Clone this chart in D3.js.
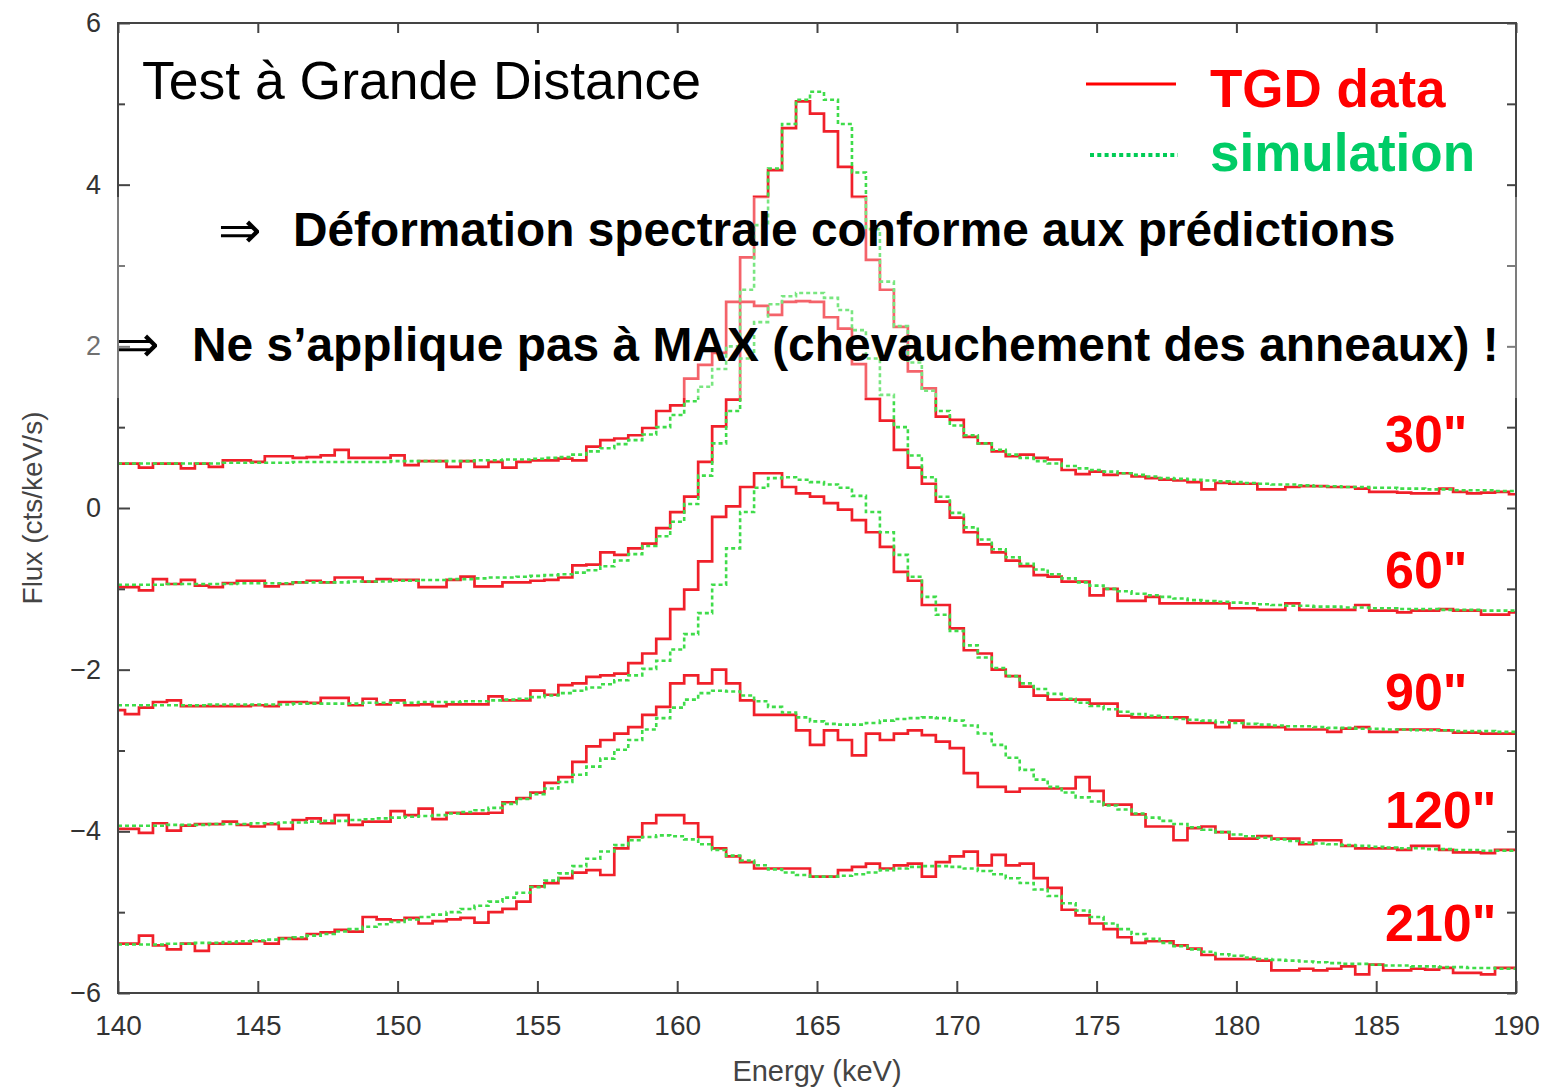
<!DOCTYPE html>
<html>
<head>
<meta charset="utf-8">
<script src="https://cdn.jsdelivr.net/npm/d3@7"></script>
<style>
  html, body { margin: 0; padding: 0; background: #fff; }
  svg { display: block; }
</style>
</head>
<body>
<svg id="chart" width="1551" height="1087"></svg>
<script>
// Energy grid: 0.5 keV bins centred from 140 to 190 keV
const energyMin = 140, energyMax = 190, binWidth = 0.5;
const energies = d3.range(0, 101).map(i => energyMin + i * binWidth);

const xTicks = [140, 145, 150, 155, 160, 165, 170, 175, 180, 185, 190];
const yTicks = [-6, -4, -2, 0, 2, 4, 6];
const yAllTicks = [-6, -5, -4, -3, -2, -1, 0, 1, 2, 3, 4, 5, 6];
const offsetLabels = ['30"', '60"', '90"', '120"', '210"'];

// Measured spectra (TGD data) and simulated spectra, offset per angle
const data30 = [
  0.55,0.55,0.50,0.55,0.55,0.49,0.55,0.51,0.59,0.59,
  0.57,0.64,0.64,0.62,0.63,0.65,0.72,0.62,0.62,0.62,
  0.65,0.53,0.58,0.58,0.51,0.58,0.51,0.57,0.50,0.57,
  0.59,0.59,0.61,0.59,0.76,0.84,0.86,0.90,0.99,1.20,
  1.27,1.60,1.77,1.92,2.55,3.10,3.85,4.18,4.70,5.03,
  4.88,4.66,4.22,3.85,3.07,2.70,2.24,1.69,1.48,1.13,
  1.09,0.88,0.80,0.70,0.64,0.66,0.62,0.60,0.47,0.42,
  0.45,0.41,0.43,0.39,0.37,0.35,0.34,0.32,0.23,0.31,
  0.30,0.30,0.23,0.23,0.26,0.27,0.27,0.26,0.26,0.24,
  0.20,0.20,0.19,0.18,0.18,0.24,0.20,0.18,0.19,0.20,
  0.17];
const sim30 = [
  0.55,0.55,0.55,0.55,0.55,0.55,0.55,0.55,0.56,0.56,
  0.56,0.56,0.56,0.57,0.57,0.57,0.57,0.57,0.57,0.57,
  0.58,0.58,0.58,0.58,0.58,0.58,0.59,0.59,0.60,0.60,
  0.61,0.62,0.63,0.66,0.70,0.74,0.79,0.84,0.91,1.00,
  1.15,1.32,1.50,1.72,2.00,2.70,3.50,4.20,4.75,5.05,
  5.15,5.05,4.75,4.15,3.45,2.80,2.25,1.80,1.45,1.20,
  1.02,0.90,0.80,0.72,0.66,0.62,0.58,0.55,0.52,0.49,
  0.47,0.45,0.43,0.41,0.39,0.37,0.36,0.35,0.34,0.33,
  0.32,0.31,0.30,0.29,0.29,0.28,0.27,0.27,0.26,0.26,
  0.25,0.25,0.24,0.24,0.23,0.23,0.22,0.22,0.22,0.21,
  0.21];

const data60 = [
  -0.98,-0.98,-1.02,-0.88,-0.94,-0.89,-0.96,-0.98,-0.93,-0.90,
  -0.90,-0.97,-0.94,-0.92,-0.90,-0.92,-0.86,-0.86,-0.91,-0.88,
  -0.89,-0.89,-0.98,-0.98,-0.89,-0.85,-0.97,-0.97,-0.92,-0.92,
  -0.90,-0.89,-0.86,-0.71,-0.70,-0.55,-0.58,-0.50,-0.44,-0.25,
  -0.05,0.14,0.57,1.01,1.34,2.55,2.50,2.39,2.55,2.56,
  2.55,2.36,2.22,1.78,1.35,1.08,0.72,0.50,0.30,0.08,
  -0.12,-0.30,-0.45,-0.55,-0.65,-0.72,-0.83,-0.85,-0.91,-0.91,
  -1.08,-1.00,-1.15,-1.15,-1.10,-1.18,-1.18,-1.18,-1.18,-1.18,
  -1.24,-1.24,-1.26,-1.26,-1.18,-1.26,-1.26,-1.26,-1.26,-1.20,
  -1.27,-1.27,-1.29,-1.27,-1.27,-1.25,-1.27,-1.27,-1.32,-1.32,
  -1.29];
const sim60 = [
  -0.95,-0.95,-0.95,-0.95,-0.94,-0.94,-0.94,-0.94,-0.94,-0.93,
  -0.93,-0.93,-0.93,-0.92,-0.92,-0.92,-0.92,-0.91,-0.91,-0.91,
  -0.90,-0.90,-0.89,-0.89,-0.88,-0.88,-0.87,-0.86,-0.86,-0.85,
  -0.84,-0.83,-0.82,-0.80,-0.77,-0.72,-0.65,-0.57,-0.47,-0.35,
  -0.17,0.05,0.40,0.80,1.20,1.85,2.30,2.52,2.62,2.66,
  2.66,2.60,2.45,2.20,1.85,1.40,1.00,0.65,0.38,0.14,
  -0.06,-0.24,-0.39,-0.51,-0.61,-0.69,-0.76,-0.82,-0.87,-0.92,
  -0.96,-1.00,-1.03,-1.06,-1.08,-1.10,-1.12,-1.14,-1.15,-1.16,
  -1.17,-1.18,-1.19,-1.20,-1.21,-1.21,-1.22,-1.22,-1.23,-1.23,
  -1.24,-1.24,-1.25,-1.25,-1.25,-1.26,-1.26,-1.26,-1.27,-1.27,
  -1.27];

const data90 = [
  -2.50,-2.55,-2.47,-2.40,-2.38,-2.45,-2.45,-2.45,-2.45,-2.45,
  -2.44,-2.45,-2.40,-2.40,-2.41,-2.35,-2.35,-2.44,-2.36,-2.43,
  -2.38,-2.44,-2.43,-2.45,-2.43,-2.43,-2.43,-2.33,-2.38,-2.38,
  -2.26,-2.31,-2.19,-2.17,-2.09,-2.07,-2.05,-1.92,-1.80,-1.62,
  -1.25,-1.01,-0.66,-0.11,0.02,0.26,0.43,0.43,0.26,0.18,
  0.14,0.06,-0.02,-0.15,-0.30,-0.48,-0.79,-0.90,-1.20,-1.20,
  -1.49,-1.76,-1.80,-2.00,-2.08,-2.21,-2.32,-2.37,-2.37,-2.37,
  -2.42,-2.42,-2.57,-2.59,-2.59,-2.59,-2.59,-2.66,-2.66,-2.71,
  -2.63,-2.71,-2.71,-2.71,-2.74,-2.74,-2.74,-2.77,-2.73,-2.71,
  -2.77,-2.77,-2.74,-2.74,-2.74,-2.75,-2.78,-2.78,-2.79,-2.79,
  -2.79];
const sim90 = [
  -2.44,-2.44,-2.44,-2.44,-2.44,-2.44,-2.44,-2.43,-2.43,-2.43,
  -2.43,-2.43,-2.43,-2.42,-2.42,-2.42,-2.42,-2.42,-2.41,-2.41,
  -2.41,-2.41,-2.40,-2.40,-2.40,-2.39,-2.39,-2.38,-2.37,-2.36,
  -2.34,-2.32,-2.29,-2.26,-2.22,-2.18,-2.13,-2.07,-1.99,-1.89,
  -1.75,-1.56,-1.30,-0.95,-0.50,-0.05,0.25,0.37,0.38,0.35,
  0.32,0.29,0.25,0.15,-0.05,-0.30,-0.58,-0.85,-1.10,-1.32,
  -1.52,-1.70,-1.85,-1.98,-2.08,-2.17,-2.24,-2.30,-2.36,-2.41,
  -2.45,-2.49,-2.52,-2.55,-2.57,-2.59,-2.61,-2.62,-2.63,-2.65,
  -2.66,-2.67,-2.68,-2.69,-2.70,-2.70,-2.71,-2.72,-2.72,-2.73,
  -2.73,-2.74,-2.74,-2.75,-2.75,-2.75,-2.76,-2.76,-2.76,-2.77,
  -2.77];

const data120 = [
  -3.97,-3.97,-4.02,-3.90,-3.99,-3.93,-3.91,-3.91,-3.88,-3.92,
  -3.94,-3.91,-3.97,-3.86,-3.84,-3.90,-3.80,-3.92,-3.88,-3.88,
  -3.75,-3.80,-3.72,-3.85,-3.77,-3.78,-3.78,-3.77,-3.64,-3.59,
  -3.52,-3.40,-3.33,-3.14,-2.95,-2.87,-2.79,-2.71,-2.56,-2.46,
  -2.17,-2.07,-2.17,-2.00,-2.17,-2.38,-2.56,-2.56,-2.56,-2.75,
  -2.93,-2.75,-2.87,-3.06,-2.79,-2.87,-2.79,-2.75,-2.81,-2.89,
  -2.97,-3.28,-3.45,-3.45,-3.51,-3.47,-3.47,-3.47,-3.47,-3.33,
  -3.50,-3.67,-3.67,-3.79,-3.94,-3.94,-4.11,-3.96,-3.94,-4.01,
  -4.09,-4.09,-4.06,-4.09,-4.09,-4.16,-4.11,-4.11,-4.18,-4.21,
  -4.21,-4.21,-4.23,-4.18,-4.18,-4.23,-4.26,-4.26,-4.27,-4.23,
  -4.23];
const sim120 = [
  -3.93,-3.93,-3.93,-3.93,-3.92,-3.92,-3.92,-3.91,-3.91,-3.91,
  -3.90,-3.90,-3.89,-3.89,-3.88,-3.87,-3.87,-3.86,-3.85,-3.84,
  -3.83,-3.82,-3.81,-3.80,-3.78,-3.76,-3.74,-3.71,-3.66,-3.60,
  -3.54,-3.47,-3.39,-3.30,-3.20,-3.10,-2.99,-2.87,-2.74,-2.60,
  -2.47,-2.37,-2.29,-2.26,-2.27,-2.32,-2.39,-2.46,-2.53,-2.59,
  -2.64,-2.67,-2.68,-2.68,-2.66,-2.63,-2.61,-2.60,-2.59,-2.60,
  -2.63,-2.69,-2.79,-2.93,-3.09,-3.24,-3.36,-3.45,-3.52,-3.58,
  -3.63,-3.68,-3.73,-3.78,-3.83,-3.87,-3.91,-3.95,-3.98,-4.01,
  -4.04,-4.06,-4.08,-4.10,-4.12,-4.14,-4.15,-4.16,-4.17,-4.18,
  -4.19,-4.20,-4.21,-4.21,-4.22,-4.22,-4.23,-4.23,-4.24,-4.24,
  -4.24];

const data210 = [
  -5.39,-5.39,-5.29,-5.41,-5.46,-5.39,-5.48,-5.39,-5.39,-5.39,
  -5.36,-5.39,-5.32,-5.33,-5.27,-5.25,-5.22,-5.24,-5.06,-5.09,
  -5.10,-5.07,-5.14,-5.11,-5.09,-5.07,-5.13,-5.00,-4.96,-4.87,
  -4.68,-4.64,-4.58,-4.51,-4.48,-4.54,-4.21,-4.07,-3.90,-3.80,
  -3.80,-3.90,-4.07,-4.21,-4.31,-4.38,-4.46,-4.46,-4.46,-4.46,
  -4.56,-4.56,-4.48,-4.44,-4.40,-4.46,-4.42,-4.40,-4.56,-4.38,
  -4.31,-4.25,-4.42,-4.29,-4.42,-4.40,-4.58,-4.70,-4.97,-5.04,
  -5.14,-5.21,-5.31,-5.38,-5.36,-5.36,-5.41,-5.45,-5.53,-5.58,
  -5.58,-5.58,-5.60,-5.72,-5.72,-5.70,-5.72,-5.70,-5.67,-5.77,
  -5.65,-5.72,-5.72,-5.70,-5.71,-5.69,-5.75,-5.75,-5.77,-5.69,
  -5.69];
const sim210 = [
  -5.40,-5.40,-5.40,-5.40,-5.39,-5.39,-5.38,-5.38,-5.37,-5.36,
  -5.35,-5.34,-5.33,-5.31,-5.29,-5.27,-5.24,-5.21,-5.18,-5.15,
  -5.12,-5.09,-5.06,-5.03,-5.00,-4.96,-4.92,-4.87,-4.82,-4.76,
  -4.69,-4.61,-4.52,-4.43,-4.34,-4.25,-4.17,-4.11,-4.07,-4.05,
  -4.06,-4.10,-4.16,-4.23,-4.30,-4.36,-4.42,-4.47,-4.51,-4.54,
  -4.56,-4.56,-4.55,-4.53,-4.51,-4.48,-4.46,-4.44,-4.43,-4.43,
  -4.44,-4.46,-4.49,-4.53,-4.58,-4.64,-4.72,-4.80,-4.89,-4.98,
  -5.06,-5.14,-5.21,-5.27,-5.33,-5.38,-5.42,-5.46,-5.49,-5.52,
  -5.54,-5.56,-5.58,-5.59,-5.60,-5.61,-5.62,-5.63,-5.64,-5.64,
  -5.65,-5.66,-5.66,-5.67,-5.67,-5.68,-5.68,-5.69,-5.69,-5.70,
  -5.70];

const measured = [data30, data60, data90, data120, data210];
const simulated = [sim30, sim60, sim90, sim120, sim210];

// ---------------------------------------------------------------
const svg = d3.select('#chart');
const plot = { left: 118, right: 1516, top: 23, bottom: 993 };
const font = '"Liberation Sans", Arial, Helvetica, sans-serif';
const axisColor = '#444';
const dataRed = '#f0202a';
const simGreen = '#3fdc4a';

const x = d3.scaleLinear().domain([energyMin, energyMax]).range([plot.left, plot.right]);
const y = d3.scaleLinear().domain([-6, 6]).range([plot.bottom, plot.top]);

svg.append('rect').attr('width', 1551).attr('height', 1087).attr('fill', '#fff');

svg.append('defs').append('clipPath').attr('id', 'plotClip')
  .append('rect')
  .attr('x', plot.left).attr('y', plot.top)
  .attr('width', plot.right - plot.left).attr('height', plot.bottom - plot.top);

const stepLine = d3.line()
  .x((d, i) => x(energies[i]))
  .y(d => y(d))
  .curve(d3.curveStep);

const curves = svg.append('g').attr('clip-path', 'url(#plotClip)');

curves.selectAll('path.measured')
  .data(measured)
  .join('path')
  .attr('class', 'measured')
  .attr('d', stepLine)
  .attr('fill', 'none')
  .attr('stroke', dataRed)
  .attr('stroke-width', 2.7)
  .attr('stroke-linejoin', 'miter');

curves.selectAll('path.simulated')
  .data(simulated)
  .join('path')
  .attr('class', 'simulated')
  .attr('d', stepLine)
  .attr('fill', 'none')
  .attr('stroke', simGreen)
  .attr('stroke-width', 2.6)
  .attr('stroke-dasharray', '4,3');

// Axes: ticks point inward on all four sides
function styleAxis(g) {
  g.select('.domain').remove();
  g.selectAll('.tick line').attr('stroke', axisColor).attr('stroke-width', 2);
  g.selectAll('.tick text')
    .attr('fill', '#333')
    .style('font-family', font);
}

svg.append('g')
  .attr('transform', `translate(0,${plot.bottom})`)
  .call(d3.axisBottom(x).tickValues(xTicks).tickSize(-12).tickPadding(22).tickFormat(d3.format('d')))
  .call(styleAxis)
  .call(g => g.selectAll('.tick text').style('font-size', '28px'));

svg.append('g')
  .attr('transform', `translate(0,${plot.top})`)
  .call(d3.axisTop(x).tickValues(xTicks).tickSize(-10).tickFormat(''))
  .call(styleAxis);

svg.append('g')
  .attr('transform', `translate(${plot.left},0)`)
  .call(d3.axisLeft(y).tickValues(yTicks).tickSize(-12).tickPadding(17).tickFormat(d3.format('d')))
  .call(styleAxis)
  .call(g => g.selectAll('.tick text').style('font-size', '27px'));

svg.append('g')
  .attr('transform', `translate(${plot.left},0)`)
  .call(d3.axisLeft(y).tickValues(yAllTicks.filter(v => v % 2 !== 0)).tickSize(-7).tickFormat(''))
  .call(styleAxis);

svg.append('g')
  .attr('transform', `translate(${plot.right},0)`)
  .call(d3.axisRight(y).tickValues(yAllTicks).tickSize(-9).tickFormat(''))
  .call(styleAxis);

svg.append('rect')
  .attr('x', plot.left).attr('y', plot.top)
  .attr('width', plot.right - plot.left).attr('height', plot.bottom - plot.top)
  .attr('fill', 'none').attr('stroke', axisColor).attr('stroke-width', 2);

// Axis titles
svg.append('text')
  .attr('transform', `translate(42,${y(0)}) rotate(-90)`)
  .attr('text-anchor', 'middle')
  .style('font-family', font).style('font-size', '28px').attr('fill', axisColor)
  .text('Flux (cts/keV/s)');

svg.append('text')
  .attr('x', x(165)).attr('y', 1081)
  .attr('text-anchor', 'middle')
  .style('font-family', font).style('font-size', '29px').attr('fill', axisColor)
  .text('Energy (keV)');

// Faded band behind the two conclusion lines
svg.append('rect')
  .attr('x', 78).attr('y', 197).attr('width', 1446).attr('height', 201)
  .attr('fill', '#fff').attr('opacity', 0.3);

// Title and legend
svg.append('text')
  .attr('x', 142).attr('y', 99)
  .style('font-family', font).style('font-size', '53.5px').attr('fill', '#000')
  .text('Test à Grande Distance');

svg.append('line')
  .attr('x1', 1086).attr('x2', 1176).attr('y1', 84).attr('y2', 84)
  .attr('stroke', '#ff0000').attr('stroke-width', 3);
svg.append('line')
  .attr('x1', 1090).attr('x2', 1178).attr('y1', 155).attr('y2', 155)
  .attr('stroke', '#00cc55').attr('stroke-width', 4).attr('stroke-dasharray', '4,3.3');

svg.append('text')
  .attr('x', 1210).attr('y', 107)
  .style('font-family', font).style('font-size', '53px').style('font-weight', 'bold')
  .attr('fill', '#ff0000')
  .text('TGD data');
svg.append('text')
  .attr('x', 1210).attr('y', 171)
  .style('font-family', font).style('font-size', '53px').style('font-weight', 'bold')
  .attr('fill', '#00cc66')
  .text('simulation');

// Conclusions
const arrowFont = '"DejaVu Sans", sans-serif';
svg.append('text')
  .attr('x', 218).attr('y', 248)
  .style('font-family', arrowFont).style('font-size', '52px').attr('fill', '#000')
  .text('⇒');
svg.append('text')
  .attr('x', 293).attr('y', 246)
  .style('font-family', font).style('font-size', '47.8px').style('font-weight', 'bold')
  .attr('fill', '#000')
  .text('Déformation spectrale conforme aux prédictions');

svg.append('text')
  .attr('x', 116).attr('y', 362)
  .style('font-family', arrowFont).style('font-size', '52px').attr('fill', '#000')
  .text('⇒');
svg.append('text')
  .attr('x', 192).attr('y', 361)
  .style('font-family', font).style('font-size', '47.9px').style('font-weight', 'bold')
  .attr('fill', '#000')
  .text('Ne s’applique pas à MAX (chevauchement des anneaux) !');

// Off-axis angle labels
const labelBaselines = [452, 588, 710, 828, 941];
svg.selectAll('text.angle')
  .data(offsetLabels)
  .join('text')
  .attr('class', 'angle')
  .attr('x', 1385)
  .attr('y', (d, i) => labelBaselines[i])
  .style('font-family', font).style('font-size', '52px').style('font-weight', 'bold')
  .attr('fill', '#ff0000')
  .text(d => d);
</script>
</body>
</html>
